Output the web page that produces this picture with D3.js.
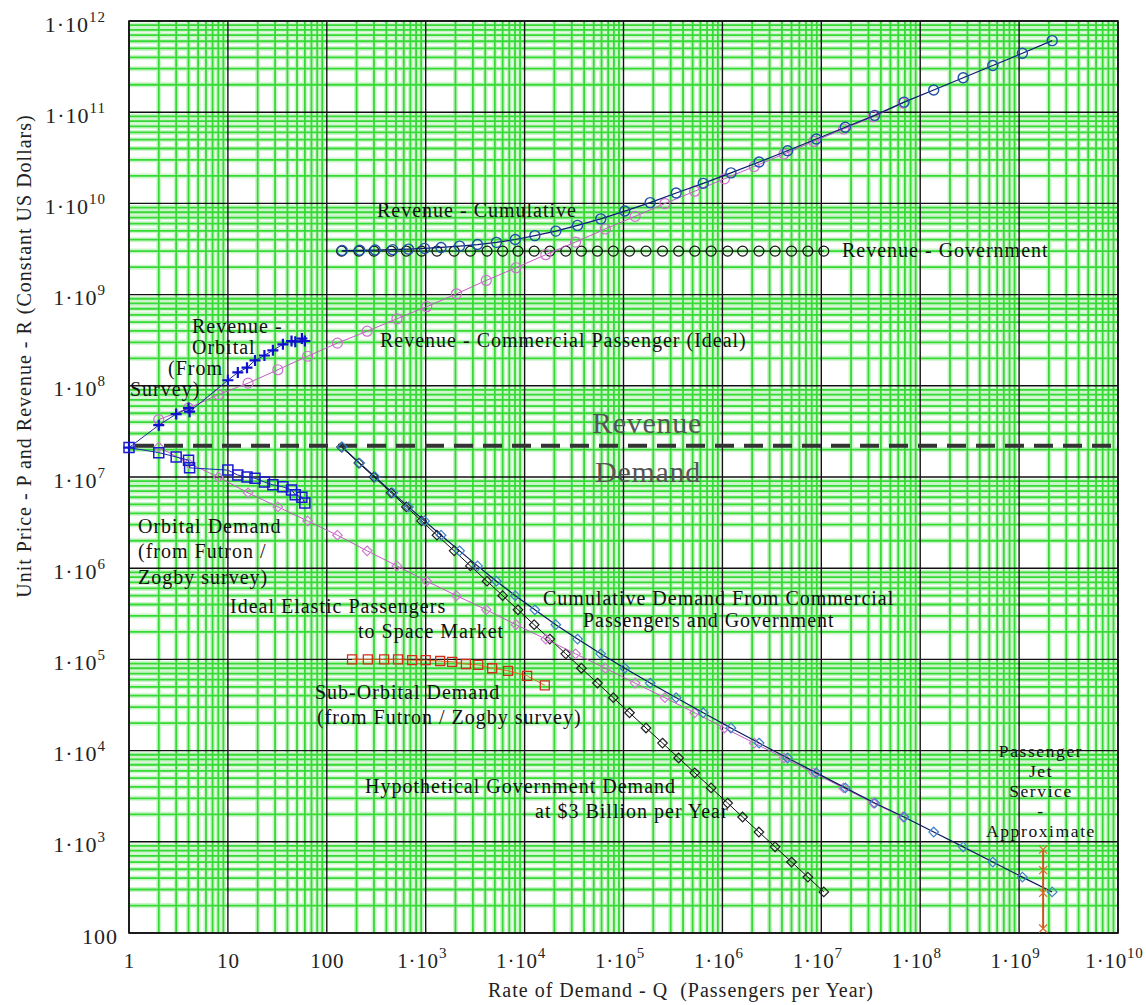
<!DOCTYPE html>
<html>
<head>
<meta charset="UTF-8">
<title>Space passenger demand and revenue</title>
<script src="https://d3js.org/d3.v7.min.js"></script>
<style>
    body { margin: 0; background: #fff; }
    text { font-family: "Liberation Serif", "Times New Roman", serif; }
</style>
</head>
<body>
<script>
// values (Q = passengers per year, P = unit price, R = revenue)
var priceLevels = [2.13e7, 1.42e7, 1.0e7, 6.7e6, 4.7e6, 3.3e6, 2.3e6, 1.55e6, 1.06e6, 7.2e5,
    5.0e5, 3.5e5, 2.4e5, 1.67e5, 1.15e5, 8.0e4, 5.5e4, 3.8e4, 2.6e4, 1.77e4,
    1.21e4, 8300, 5700, 3900, 2660, 1870, 1280, 880, 600, 410, 282];

var idealQ = [2, 4, 8, 16, 32, 64, 128, 256, 512, 1024, 2048, 4096, 8192, 16384, 32768,
    65536, 131072, 262144, 524288, 1048576, 2097152, 4194304, 8388608, 16777216,
    33554432, 67108864];
var idealP = [2.13e7, 1.42e7, 1.0e7, 6.7e6, 4.7e6, 3.3e6, 2.3e6, 1.55e6, 1.06e6, 7.2e5,
    5.0e5, 3.5e5, 2.4e5, 1.67e5, 1.15e5, 8.0e4, 5.5e4, 3.8e4, 2.6e4, 1.77e4,
    1.21e4, 8300, 5700, 3900, 2660, 1870];
var idealRevenue = [4.26e7, 5.68e7, 8.0e7, 1.07e8, 1.50e8, 2.11e8, 2.94e8, 3.97e8, 5.43e8, 7.37e8,
    1.02e9, 1.43e9, 1.97e9, 2.74e9, 3.77e9, 5.24e9, 7.21e9, 9.96e9, 1.36e10, 1.86e10,
    2.54e10, 3.48e10, 4.78e10, 6.54e10, 8.93e10, 1.26e11];

var govQ = [141, 211, 300, 448, 638, 909, 1300, 1940, 2830, 4170, 6000, 8570, 12500, 18000,
    26100, 37500, 54500, 78900, 115000, 169000, 248000, 361000, 526000, 769000,
    1.13e6, 1.60e6, 2.34e6, 3.41e6, 5.0e6, 7.32e6, 1.06e7];
var govRevenue = [3e9, 3e9, 3e9, 3e9, 3e9, 3e9, 3e9, 3e9, 3e9, 3e9, 3e9, 3e9, 3e9, 3e9, 3e9, 3e9,
    3e9, 3e9, 3e9, 3e9, 3e9, 3e9, 3e9, 3e9, 3e9, 3e9, 3e9, 3e9, 3e9, 3e9, 3e9];

var cumQ = [143, 215, 308, 464, 670, 973, 1430, 2200, 3340, 5190, 8050, 12700, 20700, 34300,
    58900, 103000, 186000, 341000, 640000, 1.22e6, 2.35e6, 4.56e6, 8.91e6, 1.75e7,
    3.47e7, 6.87e7, 1.37e8, 2.72e8, 5.42e8, 1.08e9, 2.16e9];
var cumRevenue = [3.04e9, 3.06e9, 3.08e9, 3.11e9, 3.15e9, 3.21e9, 3.29e9, 3.40e9, 3.54e9, 3.74e9,
    4.02e9, 4.43e9, 4.97e9, 5.74e9, 6.77e9, 8.24e9, 1.02e10, 1.30e10, 1.66e10, 2.16e10,
    2.84e10, 3.78e10, 5.08e10, 6.84e10, 9.23e10, 1.29e11, 1.75e11, 2.39e11, 3.25e11,
    4.43e11, 6.09e11];

var orbitalQ = [1, 2, 3, 4, 4.1, 10, 12.6, 15.6, 18.8, 23.4, 28.5, 36, 44, 48, 56, 60];
var orbitalP = [2.1e7, 1.85e7, 1.66e7, 1.53e7, 1.26e7, 1.19e7, 1.05e7, 1.0e7, 9.7e6, 8.8e6,
    8.2e6, 7.8e6, 7.2e6, 6.4e6, 6.0e6, 5.2e6];
var orbitalRevenue = [2.1e7, 3.7e7, 4.9e7, 5.7e7, 5.2e7, 1.15e8, 1.40e8, 1.58e8, 1.9e8, 2.15e8,
    2.45e8, 2.85e8, 3.1e8, 3.05e8, 3.3e8, 3.1e8];

var subOrbitalQ = [180, 260, 380, 525, 730, 1000, 1400, 1850, 2550, 3400, 4700, 6800, 10600, 16000];
var subOrbitalP = [1.0e5, 1.0e5, 1.0e5, 1.0e5, 9.8e4, 9.8e4, 9.6e4, 9.4e4, 8.9e4, 8.7e4,
    8.0e4, 7.5e4, 6.6e4, 5.2e4];

var jetQ = [1.75e9, 1.75e9, 1.75e9, 1.75e9];
var jetP = [820, 490, 275, 112];

var dividerLevel = 2.2e7;

var xTickValues = [1, 10, 100, 1e3, 1e4, 1e5, 1e6, 1e7, 1e8, 1e9, 1e10];
var yTickValues = [100, 1e3, 1e4, 1e5, 1e6, 1e7, 1e8, 1e9, 1e10, 1e11, 1e12];

// ---- layout
var margin = { top: 21, right: 28, bottom: 72, left: 129 },
    width = 1146 - margin.left - margin.right,
    height = 1005 - margin.top - margin.bottom;

var svg = d3.select("body").append("svg")
    .attr("width", 1146)
    .attr("height", 1005);

var plot = svg.append("g")
    .attr("transform", "translate(" + margin.left + "," + margin.top + ")");

var x = d3.scaleLog().domain([1, 1e10]).range([0, width]);
var y = d3.scaleLog().domain([100, 1e12]).range([height, 0]);

function isPow(t) {
    var l = Math.log10(t);
    return Math.abs(l - Math.round(l)) < 1e-9;
}

// grid: green minor lines, black decade lines
var xMinor = x.ticks(20).filter(function(t) { return !isPow(t); });
var yMinor = y.ticks(20).filter(function(t) { return !isPow(t); });

var grid = plot.append("g");
[["#caf5c8", 5], ["#36d936", 1.8]].forEach(function(s) {
    grid.selectAll(null).data(xMinor).enter().append("line")
        .attr("x1", d => x(d)).attr("x2", d => x(d))
        .attr("y1", 0).attr("y2", height)
        .attr("stroke", s[0]).attr("stroke-width", s[1]);
    grid.selectAll(null).data(yMinor).enter().append("line")
        .attr("y1", d => y(d)).attr("y2", d => y(d))
        .attr("x1", 0).attr("x2", width)
        .attr("stroke", s[0]).attr("stroke-width", s[1]);
});
grid.selectAll(null).data(xTickValues).enter().append("line")
    .attr("x1", d => x(d)).attr("x2", d => x(d))
    .attr("y1", 0).attr("y2", height)
    .attr("stroke", "#111").attr("stroke-width", 1.4);
grid.selectAll(null).data(yTickValues).enter().append("line")
    .attr("y1", d => y(d)).attr("y2", d => y(d))
    .attr("x1", 0).attr("x2", width)
    .attr("stroke", "#111").attr("stroke-width", 1.4);
plot.append("rect")
    .attr("width", width).attr("height", height)
    .attr("fill", "none").attr("stroke", "#111").attr("stroke-width", 1.6);

// revenue / demand divider
plot.append("line")
    .attr("x1", x(1)).attr("x2", x(1e10) - 5)
    .attr("y1", y(dividerLevel)).attr("y2", y(dividerLevel))
    .attr("stroke", "#333").attr("stroke-width", 4)
    .attr("stroke-dasharray", "19,10").attr("stroke-dashoffset", 23);

// markers
var markers = {
    circle: d3.symbol(d3.symbolCircle, Math.PI * 25)(),
    diamond: "M0,-4.8L4.8,0L0,4.8L-4.8,0Z",
    square: "M-5,-5H5V5H-5Z",
    smallSquare: "M-4.5,-4.5H4.5V4.5H-4.5Z",
    plus: "M-5.5,0H5.5M0,-5.5V5.5",
    cross: "M-4,-4L4,4M-4,4L4,-4"
};

function series(qs, vs, o) {
    var data = qs.map(function(q, i) { return [q, vs[i]]; });
    var g = plot.append("g");
    g.append("path")
        .datum(data)
        .attr("fill", "none")
        .attr("stroke", o.line)
        .attr("stroke-width", o.lw || 1)
        .attr("d", d3.line().x(d => x(d[0])).y(d => y(d[1])));
    g.selectAll(null).data(data).enter().append("path")
        .attr("transform", d => "translate(" + x(d[0]) + "," + y(d[1]) + ")")
        .attr("d", markers[o.marker])
        .attr("fill", "none")
        .attr("stroke", o.color)
        .attr("stroke-width", o.mw || 1.2);
}

// revenue curves
series(govQ, govRevenue, { line: "#111", color: "#111", marker: "circle" });
series(idealQ, idealRevenue, { line: "#c15cc1", color: "#cc6fcc", marker: "circle" });
series(cumQ, cumRevenue, { line: "#0a1a70", color: "#1f4fa8", marker: "circle", lw: 1.2, mw: 1.4 });
series(orbitalQ, orbitalRevenue, { line: "#1a2aa0", color: "#1010d0", marker: "plus", mw: 2.2 });

// demand curves
series(govQ, priceLevels, { line: "#111", color: "#222", marker: "diamond" });
series(idealQ, idealP, { line: "#c15cc1", color: "#d07ad0", marker: "diamond" });
series(cumQ, priceLevels, { line: "#0a1a60", color: "#3d80c8", marker: "diamond", lw: 1.2 });
series(orbitalQ, orbitalP, { line: "#1a2ab0", color: "#1a1ad0", marker: "square", mw: 1.5 });
series(subOrbitalQ, subOrbitalP, { line: "#d9761a", color: "#d0301a", marker: "smallSquare", mw: 1.3 });
series(jetQ, jetP, { line: "#c8561a", color: "#d66a2a", marker: "cross", lw: 2 });

// axes
function powLabel(sel, d) {
    var e = Math.round(Math.log10(d));
    sel.text(null);
    if (e < 3) {
        sel.text(String(d));
    } else {
        sel.append("tspan").text("1\u00b710");
        sel.append("tspan").attr("dy", -10).attr("font-size", 15).text(e);
    }
}

var gx = plot.append("g")
    .attr("transform", "translate(0," + height + ")")
    .call(d3.axisBottom(x).tickValues(xTickValues).tickSize(0).tickFormat(""));
gx.select(".domain").remove();
gx.selectAll(".tick text")
    .attr("x", d => d < 1e3 ? 0 : -4)
    .attr("y", 35).attr("dy", null)
    .attr("font-size", 21).attr("letter-spacing", 0.8)
    .attr("fill", "#222")
    .each(function(d) { powLabel(d3.select(this), d); });

var gy = plot.append("g")
    .call(d3.axisLeft(y).tickValues(yTickValues).tickSize(0).tickFormat(""));
gy.select(".domain").remove();
gy.selectAll(".tick text")
    .attr("x", d => d < 1e3 ? -11 : -23)
    .attr("y", 10).attr("dy", null)
    .attr("font-size", 22).attr("letter-spacing", 1)
    .attr("fill", "#222")
    .each(function(d) { powLabel(d3.select(this), d); });

svg.append("text")
    .attr("x", 488).attr("y", 997)
    .attr("font-size", 20).attr("letter-spacing", 1)
    .attr("fill", "#222")
    .attr("xml:space", "preserve")
    .text("Rate of Demand - Q  (Passengers per Year)");

svg.append("text")
    .attr("transform", "translate(31,356) rotate(-90)")
    .attr("text-anchor", "middle")
    .attr("font-size", 20).attr("letter-spacing", 1)
    .attr("fill", "#222")
    .text("Unit Price - P and Revenue - R (Constant US Dollars)");

// annotations (page pixels)
var notes = [
    ["Revenue - Cumulative", 377, 217],
    ["Revenue - Government", 842, 257],
    ["Revenue - Commercial Passenger (Ideal)", 380, 347],
    ["Revenue -", 192, 333],
    ["Orbital", 192, 354],
    ["(From", 168, 375],
    ["Survey)", 130, 396],
    ["Orbital Demand", 138, 533],
    ["(from Futron /", 138, 558],
    ["Zogby survey)", 138, 584],
    ["Ideal Elastic Passengers", 230, 613],
    ["to Space Market", 358, 638],
    ["Cumulative Demand From Commercial", 543, 605],
    ["Passengers and Government", 583, 627],
    ["Sub-Orbital Demand", 315, 699],
    ["(from Futron / Zogby survey)", 317, 724],
    ["Hypothetical Government Demand", 365, 793],
    ["at $3 Billion per Year", 535, 818]
];
svg.append("g").selectAll(null).data(notes).enter().append("text")
    .attr("x", d => d[1]).attr("y", d => d[2])
    .attr("font-size", 20).attr("letter-spacing", 1)
    .attr("fill", "#111")
    .text(d => d[0]);

// stacked jet-service note
var jetLines = [["Passenger", 757], ["Jet", 777], ["Service", 797], ["-", 817], ["Approximate", 837]];
svg.append("g").selectAll(null).data(jetLines).enter().append("text")
    .attr("x", 1041).attr("y", d => d[1])
    .attr("text-anchor", "middle")
    .attr("font-size", 17.5).attr("letter-spacing", 1.6)
    .attr("fill", "#111")
    .text(d => d[0]);

svg.append("text")
    .attr("x", 647).attr("y", 433).attr("text-anchor", "middle")
    .attr("font-size", 30).attr("letter-spacing", 0.7).attr("fill", "#555")
    .text("Revenue");
svg.append("text")
    .attr("x", 648).attr("y", 482).attr("text-anchor", "middle")
    .attr("font-size", 30).attr("letter-spacing", 0.7).attr("fill", "#555")
    .text("Demand");
</script>
</body>
</html>
